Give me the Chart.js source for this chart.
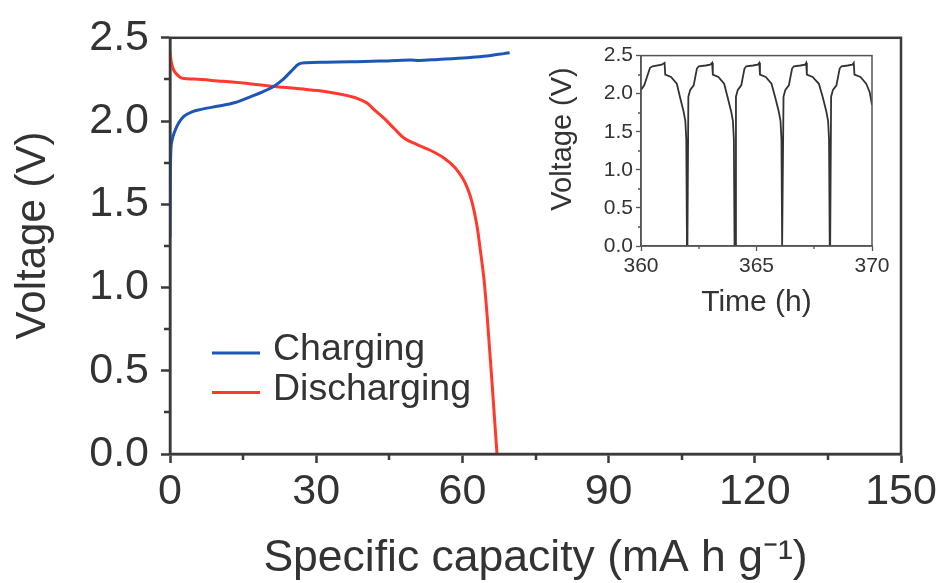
<!DOCTYPE html>
<html>
<head>
<meta charset="utf-8">
<script src="https://cdn.jsdelivr.net/npm/chart.js@4.4.1/dist/chart.umd.min.js"></script>
<style>
  html, body { margin: 0; padding: 0; background: #ffffff; }
  #wrap { position: relative; width: 947px; height: 583px; overflow: hidden; }
  #main { position: absolute; left: 0; top: 0; }
  #inset { position: absolute; left: 530px; top: 40px; }
</style>
</head>
<body>
<div id="wrap">
  <canvas id="main" width="947" height="583"></canvas>
  <canvas id="inset" width="380" height="290"></canvas>
</div>
<script>
// ---------------- data ----------------
const capCharge = [0, 0.05, 0.15, 0.4, 1.0, 1.8, 2.9, 4.5, 6.4, 10, 13.2, 16.6, 19, 21.4, 23.2, 24.8, 26.5, 28, 32, 37, 43, 49.4, 51, 55, 61, 65, 67.1, 68.5, 69.7];
const voltCharge = [1.30, 1.60, 1.80, 1.88, 1.94, 1.99, 2.03, 2.055, 2.07, 2.09, 2.11, 2.147, 2.175, 2.21, 2.25, 2.297, 2.343, 2.35, 2.353, 2.356, 2.36, 2.366, 2.364, 2.37, 2.38, 2.39, 2.40, 2.405, 2.41];

const capDischarge = [0, 0.1, 0.3, 0.7, 1.2, 2.0, 2.6, 5, 9.8, 15, 21.4, 26, 30.3, 33, 35.7, 38.5, 40.5, 42, 43.9, 46, 48, 50.7, 53, 56.2, 58.5, 60, 61, 62, 63, 63.7, 64.5, 65.1, 66.1, 66.6, 67.1];
const voltDischarge = [2.42, 2.39, 2.35, 2.31, 2.287, 2.265, 2.257, 2.252, 2.241, 2.228, 2.207, 2.196, 2.183, 2.172, 2.157, 2.135, 2.107, 2.065, 2.017, 1.955, 1.898, 1.858, 1.83, 1.778, 1.72, 1.659, 1.60, 1.51, 1.37, 1.22, 1.03, 0.821, 0.423, 0.21, 0.0];

const seriesLabels = ['Charging', 'Discharging'];

const mainXTicks = [0, 30, 60, 90, 120, 150];
const mainYTicks = [0, 0.5, 1.0, 1.5, 2.0, 2.5];

const insetTime = [
  360.00, 360.14, 360.39, 360.50, 360.90, 361.02, 361.05, 361.30, 361.55, 361.70, 361.84, 361.92, 361.96, 361.99,
  362.01, 362.05, 362.13, 362.28, 362.42, 362.50, 362.80, 363.00, 363.08, 363.11, 363.35, 363.60, 363.76, 363.90, 363.98, 364.02, 364.05,
  364.07, 364.11, 364.19, 364.34, 364.48, 364.56, 364.85, 365.05, 365.12, 365.15, 365.40, 365.65, 365.82, 365.96, 366.04, 366.08, 366.11,
  366.13, 366.17, 366.25, 366.40, 366.54, 366.62, 366.90, 367.10, 367.15, 367.18, 367.43, 367.70, 367.88, 368.02, 368.10, 368.14, 368.17,
  368.19, 368.23, 368.31, 368.46, 368.60, 368.68, 368.95, 369.15, 369.21, 369.24, 369.50, 369.75, 369.90, 370.00
];
const insetVolt = [
  2.05, 2.11, 2.34, 2.36, 2.38, 2.405, 2.25, 2.22, 2.13, 1.94, 1.77, 1.64, 1.40, 0.0,
  0.0, 1.96, 2.05, 2.11, 2.33, 2.36, 2.37, 2.38, 2.405, 2.25, 2.22, 2.13, 1.94, 1.77, 1.64, 1.40, 0.0,
  0.0, 1.96, 2.05, 2.11, 2.33, 2.36, 2.37, 2.38, 2.405, 2.25, 2.22, 2.13, 1.94, 1.77, 1.64, 1.40, 0.0,
  0.0, 1.96, 2.05, 2.11, 2.33, 2.36, 2.37, 2.38, 2.405, 2.25, 2.22, 2.13, 1.94, 1.77, 1.64, 1.40, 0.0,
  0.0, 1.96, 2.05, 2.11, 2.33, 2.36, 2.37, 2.38, 2.405, 2.25, 2.22, 2.13, 2.02, 1.85
];
const insetXTicks = [360, 365, 370];
const insetYTicks = [0, 0.5, 1.0, 1.5, 2.0, 2.5];

// ---------------- helpers ----------------
const FONT = "'Liberation Sans', Arial, Helvetica, sans-serif";
const TEXT = '#333333';
const AXIS = '#3a3a3a';
Chart.defaults.font.family = FONT;
Chart.defaults.color = TEXT;

function pts(xs, ys) { return xs.map((x, i) => ({ x: x, y: ys[i] })); }
function fixTicks(arr) { return (s) => { s.ticks = arr.map(v => ({ value: v })); }; }

const framePlugin = {
  id: 'frame',
  afterDraw(chart, args, o) {
    const { ctx, chartArea: a, scales } = chart;
    ctx.save();
    ctx.strokeStyle = o.color;
    ctx.lineWidth = o.width;
    ctx.strokeRect(a.left, a.top, a.right - a.left, a.bottom - a.top);
    ctx.lineWidth = o.tickWidth;
    ctx.strokeStyle = o.tickColor;
    ctx.beginPath();
    const xs = scales.x, ys = scales.y;
    for (let i = 0; i < xs.ticks.length - 1; i++) {
      const px = Math.round(xs.getPixelForValue((xs.ticks[i].value + xs.ticks[i + 1].value) / 2));
      ctx.moveTo(px, a.bottom); ctx.lineTo(px, a.bottom + o.minorLen);
    }
    for (let i = 0; i < ys.ticks.length - 1; i++) {
      const py = Math.round(ys.getPixelForValue((ys.ticks[i].value + ys.ticks[i + 1].value) / 2));
      ctx.moveTo(a.left, py); ctx.lineTo(a.left - o.minorLen, py);
    }
    ctx.stroke();
    // vertical axis title, placed like the reference
    if (o.yTitle) {
      ctx.save();
      ctx.fillStyle = TEXT;
      ctx.font = o.yTitleSize + 'px ' + FONT;
      ctx.textAlign = 'center';
      ctx.textBaseline = 'middle';
      ctx.translate(o.yTitleX, o.yTitleY);
      ctx.rotate(-Math.PI / 2);
      ctx.fillText(o.yTitle, 0, 0);
      ctx.restore();
    }
    ctx.restore();
  }
};

const legendPlugin = {
  id: 'manualLegend',
  afterDraw(chart, args, o) {
    const ctx = chart.ctx;
    ctx.save();
    chart.data.datasets.forEach((ds, i) => {
      const y = o.y + i * o.gap;
      ctx.strokeStyle = ds.borderColor;
      ctx.lineWidth = 3;
      ctx.beginPath();
      ctx.moveTo(o.x, y); ctx.lineTo(o.x + o.len, y);
      ctx.stroke();
      ctx.fillStyle = TEXT;
      ctx.font = o.size + 'px ' + FONT;
      ctx.textBaseline = 'alphabetic';
      ctx.textAlign = 'left';
      ctx.fillText(ds.label, o.x + o.len + o.textGap, y + o.baseOff);
    });
    ctx.restore();
  }
};

// ---------------- main chart ----------------
new Chart(document.getElementById('main'), {
  type: 'line',
  data: {
    datasets: [
      { label: seriesLabels[0], data: pts(capCharge, voltCharge), borderColor: '#1c57b8', borderWidth: 3, pointRadius: 0, cubicInterpolationMode: 'monotone' },
      { label: seriesLabels[1], data: pts(capDischarge, voltDischarge), borderColor: '#ff3a2c', borderWidth: 3, pointRadius: 0, cubicInterpolationMode: 'monotone' }
    ]
  },
  options: {
    responsive: false,
    animation: false,
    layout: { padding: { top: 36, right: 46, left: 0, bottom: 0 } },
    plugins: {
      legend: { display: false },
      tooltip: { enabled: false },
      frame: { color: AXIS, width: 2.5, tickWidth: 2.5, tickColor: AXIS, minorLen: 6,
               yTitle: 'Voltage (V)', yTitleSize: 42, yTitleX: 33.2, yTitleY: 235.5 },
      manualLegend: { x: 212, y: 353, gap: 39.5, len: 48, textGap: 13, size: 37.5, baseOff: 7 }
    },
    scales: {
      x: {
        type: 'linear', min: 0, max: 150,
        afterBuildTicks: fixTicks(mainXTicks),
        afterFit: (s) => { s.height = 129; },
        ticks: { font: { size: 43 }, color: TEXT, padding: 3, maxRotation: 0, autoSkip: false },
        grid: { drawOnChartArea: false, drawTicks: true, tickLength: 9, tickWidth: 2.5, tickColor: AXIS },
        border: { display: true, color: AXIS, width: 2.5 },
        title: { display: true, text: 'Specific capacity (mA h g\u207B\u00B9)', font: { size: 44.5, lineHeight: 1.0 }, color: TEXT, padding: { top: 0, bottom: 1.75 } }
      },
      y: {
        type: 'linear', min: 0, max: 2.5,
        afterBuildTicks: fixTicks(mainYTicks),
        afterFit: (s) => { s.width = 170; },
        ticks: { font: { size: 43 }, color: TEXT, padding: 12, callback: (v) => Number(v).toFixed(1) },
        grid: { drawOnChartArea: false, drawTicks: true, tickLength: 9, tickWidth: 2.5, tickColor: AXIS },
        border: { display: true, color: AXIS, width: 2.5 },
        title: { display: false }
      }
    }
  },
  plugins: [framePlugin, legendPlugin]
});

// ---------------- inset chart ----------------
new Chart(document.getElementById('inset'), {
  type: 'line',
  data: {
    datasets: [
      { label: 'Voltage', data: pts(insetTime, insetVolt), borderColor: '#333333', borderWidth: 1.8, pointRadius: 0, tension: 0 }
    ]
  },
  options: {
    responsive: false,
    animation: false,
    layout: { padding: { top: 12, right: 38, left: 0, bottom: 0 } },
    plugins: {
      legend: { display: false },
      tooltip: { enabled: false },
      frame: { color: '#555555', width: 1.5, tickWidth: 1.3, tickColor: '#555555', minorLen: 3,
               yTitle: 'Voltage (V)', yTitleSize: 29, yTitleX: 33, yTitleY: 99 }
    },
    scales: {
      x: {
        type: 'linear', min: 360, max: 370,
        afterBuildTicks: fixTicks(insetXTicks),
        afterFit: (s) => { s.height = 84; },
        ticks: { font: { size: 21 }, color: TEXT, padding: 3, maxRotation: 0, autoSkip: false },
        grid: { drawOnChartArea: false, drawTicks: true, tickLength: 5, tickWidth: 1.3, tickColor: '#555555' },
        border: { display: true, color: '#555555', width: 1.5 },
        title: { display: true, text: 'Time (h)', font: { size: 30 }, color: TEXT, padding: { top: 0, bottom: 9 } }
      },
      y: {
        type: 'linear', min: 0, max: 2.5,
        afterBuildTicks: fixTicks(insetYTicks),
        afterFit: (s) => { s.width = 111; },
        ticks: { font: { size: 21 }, color: TEXT, padding: 3, callback: (v) => Number(v).toFixed(1) },
        grid: { drawOnChartArea: false, drawTicks: true, tickLength: 5, tickWidth: 1.3, tickColor: '#555555' },
        border: { display: true, color: '#555555', width: 1.5 },
        title: { display: false }
      }
    }
  }
  , plugins: [framePlugin]
});
</script>
</body>
</html>
